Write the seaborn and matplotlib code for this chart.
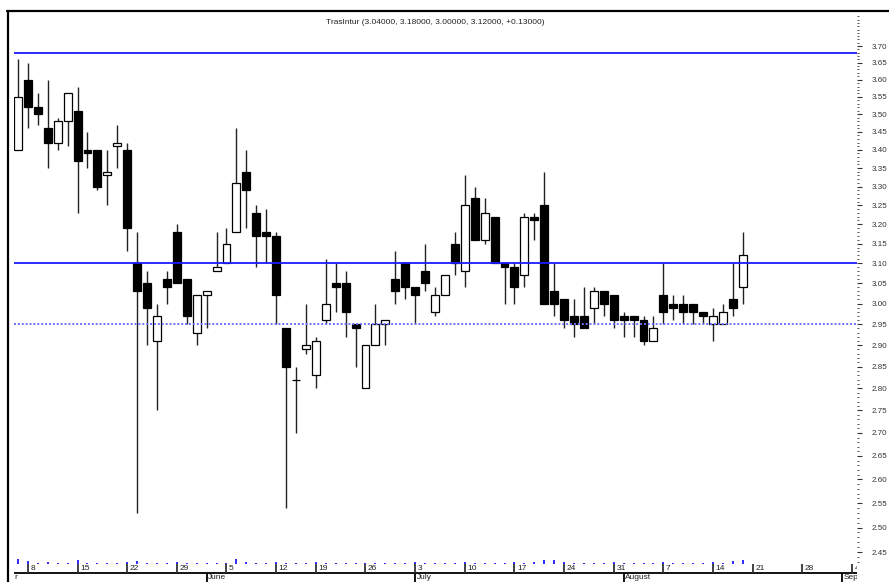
import matplotlib
matplotlib.use("Agg")
import matplotlib.pyplot as plt
from matplotlib.lines import Line2D
from matplotlib.ticker import FixedLocator, FuncFormatter, NullFormatter
import numpy as np
import pandas as pd
import seaborn as sns

# daily OHLC, May 5 - Aug 18 2000 (trading days only)
opens = [3.40, 3.60, 3.52, 3.46, 3.42, 3.48, 3.51, 3.40, 3.40, 3.33,
         3.41, 3.40, 3.10, 3.05, 2.91, 3.06, 3.18, 3.06, 2.93, 3.02,
         3.08, 3.10, 3.18, 3.34, 3.23, 3.18, 3.17, 2.94, 2.82, 2.89,
         2.83, 2.96, 3.05, 3.05, 2.95, 2.80, 2.90, 2.95, 3.06, 3.10,
         3.04, 3.08, 2.98, 3.02, 3.15, 3.08, 3.27, 3.16, 3.22, 3.10,
         3.09, 3.07, 3.22, 3.25, 3.03, 3.01, 2.97, 2.97, 2.99, 3.03,
         3.02, 2.97, 2.97, 2.96, 2.91, 3.02, 3.00, 3.00, 3.00, 2.98,
         2.95, 2.95, 3.01, 3.04]
highs = [3.66, 3.65, 3.56, 3.60, 3.49, 3.56, 3.58, 3.45, 3.40, 3.40,
         3.47, 3.42, 3.18, 3.08, 3.00, 3.08, 3.20, 3.06, 3.02, 3.03,
         3.18, 3.19, 3.46, 3.40, 3.25, 3.24, 3.18, 2.94, 2.85, 3.00,
         2.92, 3.11, 3.10, 3.08, 2.95, 2.90, 3.00, 2.96, 3.13, 3.10,
         3.04, 3.15, 3.04, 3.07, 3.18, 3.33, 3.30, 3.27, 3.22, 3.10,
         3.10, 3.23, 3.23, 3.34, 3.10, 3.01, 3.01, 3.04, 3.04, 3.03,
         3.02, 2.98, 2.97, 2.97, 2.97, 3.10, 3.02, 3.02, 3.00, 2.98,
         2.99, 3.00, 3.10, 3.18]
lows = [3.40, 3.46, 3.47, 3.35, 3.40, 3.41, 3.23, 3.35, 3.29, 3.25,
        3.35, 3.13, 2.53, 2.90, 2.75, 3.00, 3.05, 2.95, 2.90, 2.94,
        3.08, 3.10, 3.18, 3.19, 3.09, 3.10, 2.95, 2.54, 2.70, 2.88,
        2.80, 2.95, 2.98, 2.92, 2.85, 2.80, 2.90, 2.90, 3.00, 3.01,
        2.95, 3.03, 2.97, 3.02, 3.07, 3.04, 3.16, 3.15, 3.10, 3.00,
        3.00, 3.04, 3.16, 3.00, 2.97, 2.94, 2.92, 2.94, 2.95, 2.97,
        2.94, 2.92, 2.92, 2.90, 2.91, 2.95, 2.96, 2.95, 2.95, 2.95,
        2.91, 2.95, 2.97, 3.00]
closes = [3.55, 3.52, 3.50, 3.42, 3.48, 3.56, 3.37, 3.39, 3.30, 3.34,
          3.42, 3.19, 3.03, 2.99, 2.97, 3.04, 3.05, 2.97, 3.02, 3.03,
          3.09, 3.15, 3.31, 3.29, 3.17, 3.17, 3.02, 2.85, 2.82, 2.90,
          2.91, 3.00, 3.04, 2.98, 2.94, 2.90, 2.95, 2.96, 3.03, 3.04,
          3.02, 3.05, 3.02, 3.07, 3.10, 3.25, 3.16, 3.23, 3.10, 3.09,
          3.04, 3.22, 3.21, 3.00, 3.00, 2.96, 2.95, 2.94, 3.03, 3.00,
          2.96, 2.96, 2.96, 2.91, 2.94, 2.98, 2.99, 2.98, 2.98, 2.97,
          2.97, 2.98, 2.99, 3.12]
# volume ticks along the bottom (relative heights)
volumes = [5, 3, 1, 2, 1, 1, 4, 1, 1, 1, 1, 2, 3, 1, 1, 1, 2, 1, 1, 1,
           1, 1, 5, 2, 1, 1, 2, 1, 1, 1, 2, 1, 1, 1, 1, 1, 1, 1, 1, 1,
           2, 1, 1, 1, 1, 2, 1, 1, 1, 1, 2, 1, 2, 4, 4, 2, 1, 1, 1, 1,
           2, 1, 1, 1, 1, 2, 1, 1, 1, 1, 2, 1, 3, 4]
levels = [3.68, 3.10]
support = 2.95
holidays = ["2000-06-16", "2000-08-15"]
title = "TrasIntur (3.04000, 3.18000, 3.00000, 3.12000, +0.13000)"

sns.set_theme(style="white")
plt.rcParams["font.family"] = ["Liberation Sans", "DejaVu Sans"]

days = pd.bdate_range("2000-05-05", "2000-09-08").drop(pd.to_datetime(holidays))
df = pd.DataFrame({"open": opens, "high": highs, "low": lows,
                   "close": closes, "vol": volumes})
df["idx"] = np.arange(len(df))
up = df["close"] >= df["open"]

W, H = 889, 582
fig = plt.figure(figsize=(W / 100, H / 100), dpi=100)
ax = fig.add_axes([14 / W, 18 / H, 843 / W, 553 / H])
xlim = (-0.4, 84.5)

# wicks + bodies
ax.vlines(df["idx"], df["low"], df["high"], color="#222222", lw=1.0, zorder=2)
ax.bar(df["idx"][up], (df["close"] - df["open"])[up], bottom=df["open"][up],
       width=0.8, color="white", edgecolor="black", lw=0.9, zorder=3)
ax.bar(df["idx"][~up], (df["close"] - df["open"])[~up], bottom=df["open"][~up],
       width=0.8, color="black", edgecolor="black", lw=0.9, zorder=3)

for lv in levels:
    ax.axhline(lv, color="#1a1aff", lw=1.3, zorder=4)
ax.axhline(support, color="#6f6fff", lw=1.4, ls=(0, (1, 1)), zorder=4)

ax.set_yscale("log")
ax.set_ylim(2.4268, 3.807)
ax.set_xlim(*xlim)
major = np.round(np.arange(2.45, 3.701, 0.05), 2)
minor = np.round(np.arange(2.43, 3.80, 0.01), 2)
ax.yaxis.set_major_locator(FixedLocator(major))
ax.yaxis.set_major_formatter(FuncFormatter(lambda v, p: f"{v:.2f}"))
ax.yaxis.set_minor_locator(FixedLocator(minor))
ax.yaxis.set_minor_formatter(NullFormatter())
ax.yaxis.tick_right()
ax.tick_params(axis="y", which="major", length=3.6, width=0.8, pad=7,
               labelsize=5.8, colors="#333333", direction="out")
ax.tick_params(axis="y", which="minor", length=1.5, width=0.6,
               colors="#333333", direction="out")
ax.set_xticks([])
ax.set_xlabel("")
ax.set_ylabel("")
for s in ax.spines.values():
    s.set_visible(False)
ax.text(0.5, 0.979, title, transform=ax.transAxes, ha="center", va="center",
        fontsize=6, color="#222222")

# volume ticks at the bottom
axv = ax.inset_axes([0, 0, 1, 10 / 553])
axv.vlines(df["idx"], 0, df["vol"], color="#2a2aff", lw=1.4)
axv.set_xlim(*xlim)
axv.set_ylim(0, 10)
axv.axis("off")

# date strip
axd = fig.add_axes([14 / W, 0, 843 / W, 18 / H])
axd.set_xlim(*xlim)
axd.set_ylim(0, 1)
axd.axis("off")
axd.axhline(0.5, color="black", lw=1.3)
week_idx = [i for i, d in enumerate(days) if d.weekday() == 0]
month_idx = [i for i in range(1, len(days)) if days[i].month != days[i - 1].month]
axd.vlines(week_idx, 0.5, 1.0, color="#333333", lw=1.3)
for i in week_idx:
    axd.text(i + 0.25, 0.93, str(days[i].day), ha="left", va="top",
             fontsize=6, color="#222222", clip_on=True)
axd.vlines(month_idx, 0.0, 0.5, color="black", lw=1.3)
for i in month_idx:
    axd.text(i + 0.15, 0.42, days[i].strftime("%B"), ha="left", va="top",
             fontsize=6, color="#222222", clip_on=True)
axd.text(-0.35, 0.42, "r", ha="left", va="top", fontsize=6,
         color="#222222", clip_on=True)

# outer frame
fig.add_artist(Line2D([7.5 / W, 7.5 / W], [0, 1 - 11 / H], color="black",
                      lw=1.6, transform=fig.transFigure))
fig.add_artist(Line2D([7 / W, 1], [1 - 11 / H, 1 - 11 / H], color="black",
                      lw=1.6, transform=fig.transFigure))

fig.savefig("out.png", dpi=100, facecolor="white")
